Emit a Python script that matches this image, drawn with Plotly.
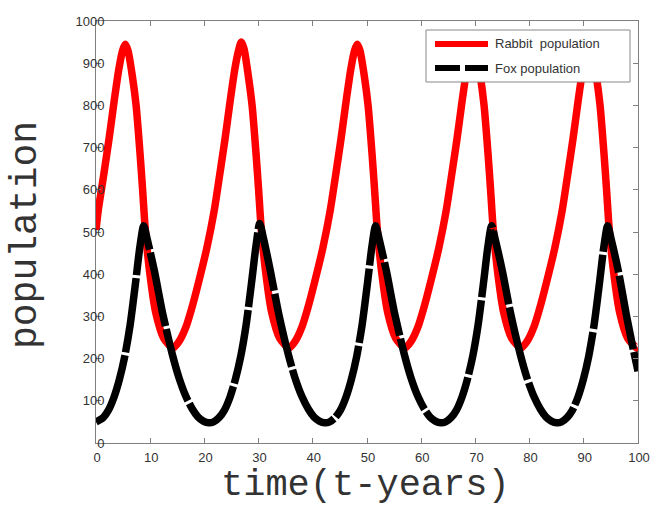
import plotly.graph_objects as go

# Values
rabbit_t = [0, 0.4, 1.3, 2.4, 3.4, 4.2, 4.9, 5.4, 5.9, 6.7, 7.4, 8.1, 8.6, 9.1, 10.0, 11.0, 12.5,
            14.2, 15.3, 16.6, 17.9, 19.3, 20.5, 21.8, 22.7, 23.8, 24.8, 25.6, 26.3, 26.8, 27.3, 28.1, 28.8, 29.5, 30.0, 30.5, 31.4, 32.4, 33.9,
            35.6, 36.7, 38.0, 39.3, 40.7, 41.9, 43.2, 44.1, 45.2, 46.2, 47.0, 47.7, 48.2, 48.7, 49.5, 50.2, 50.9, 51.4, 51.9, 52.8, 53.8, 55.3,
            57.0, 58.1, 59.4, 60.7, 62.1, 63.3, 64.6, 65.5, 66.6, 67.6, 68.4, 69.1, 69.6, 70.1, 70.9, 71.6, 72.3, 72.8, 73.3, 74.2, 75.2, 76.7,
            78.4, 79.5, 80.8, 82.1, 83.5, 84.7, 86.0, 86.9, 88.0, 89.0, 89.8, 90.5, 91.0, 91.5, 92.3, 93.0, 93.7, 94.2, 94.7, 95.6, 96.6, 98.1,
            99.8, 100]
rabbit_pop = [505, 550, 625, 720, 815, 885, 930, 945, 930, 870, 800, 690, 600, 505, 395, 310, 248,
              225, 240, 275, 330, 400, 465, 550, 625, 720, 815, 885, 930, 950, 935, 870, 800, 690, 600, 505, 395, 310, 248,
              225, 240, 275, 330, 400, 465, 550, 625, 720, 815, 885, 930, 945, 930, 870, 800, 690, 600, 505, 395, 310, 248,
              225, 240, 275, 330, 400, 465, 550, 625, 720, 815, 885, 930, 945, 930, 870, 800, 690, 600, 505, 395, 310, 248,
              225, 240, 275, 330, 400, 465, 550, 625, 720, 815, 885, 930, 945, 930, 870, 800, 690, 600, 505, 395, 310, 248,
              225, 226]

fox_t = [0, 1.3, 2.3, 3.3, 4.3, 5.3, 6.3, 7.3, 8.1, 8.8, 9.5, 10.8, 12.3, 14.1, 15.3, 16.6, 17.8, 18.8, 19.8, 20.8,
         21.7, 22.7, 23.7, 24.7, 25.7, 26.7, 27.7, 28.7, 29.5, 30.2, 30.9, 32.2, 33.7, 35.5, 36.7, 38.0, 39.2, 40.2, 41.2, 42.2,
         43.1, 44.1, 45.1, 46.1, 47.1, 48.1, 49.1, 50.1, 50.9, 51.6, 52.3, 53.6, 55.1, 56.9, 58.1, 59.4, 60.6, 61.6, 62.6, 63.6,
         64.5, 65.5, 66.5, 67.5, 68.5, 69.5, 70.5, 71.5, 72.3, 73.0, 73.7, 75.0, 76.5, 78.3, 79.5, 80.8, 82.0, 83.0, 84.0, 85.0,
         85.9, 86.9, 87.9, 88.9, 89.9, 90.9, 91.9, 92.9, 93.7, 94.4, 95.1, 96.4, 97.9, 99.0, 100]
fox_pop = [50, 60, 78, 108, 150, 205, 280, 380, 465, 515, 480, 406, 307, 209, 155, 110, 80, 62, 52, 48,
           50, 60, 78, 108, 150, 205, 280, 380, 465, 520, 485, 406, 307, 209, 155, 110, 80, 62, 52, 48,
           50, 60, 78, 108, 150, 205, 280, 380, 465, 515, 480, 406, 307, 209, 155, 110, 80, 62, 52, 48,
           50, 60, 78, 108, 150, 205, 280, 380, 465, 515, 480, 406, 307, 209, 155, 110, 80, 62, 52, 48,
           50, 60, 78, 108, 150, 205, 280, 380, 465, 515, 480, 406, 300, 230, 170]

x_ticks = [0, 10, 20, 30, 40, 50, 60, 70, 80, 90, 100]
y_ticks = [0, 100, 200, 300, 400, 500, 600, 700, 800, 900, 1000]
legend_labels = ["Rabbit  population", "Fox population"]

fig = go.Figure()
fig.add_trace(go.Scatter(x=rabbit_t, y=rabbit_pop, mode="lines", name=legend_labels[0],
                         line=dict(color="#ff0000", width=7.5, shape="spline", smoothing=0.7)))
fig.add_trace(go.Scatter(x=fox_t, y=fox_pop, mode="lines", name=legend_labels[1],
                         line=dict(color="#000000", width=7.5, shape="spline", smoothing=0.7, dash="75px,3px")))

axis_common = dict(showgrid=False, zeroline=False, showline=True, linecolor="#808080", linewidth=1,
                   mirror="ticks", ticks="inside", ticklen=5, tickcolor="#808080", automargin=False,
                   ticklabeloverflow="allow",
                   tickfont=dict(family="Liberation Sans, Arial", size=13, color="#333333"))

fig.update_xaxes(range=[0, 100], tickvals=x_ticks, ticktext=[str(v) for v in x_ticks],
                 ticklabelshift=1, ticklabelstandoff=2, **axis_common)
fig.update_yaxes(range=[0, 1000], tickvals=y_ticks, ticktext=[str(v) for v in y_ticks],
                 ticklabelstandoff=-12, **axis_common)

def px(X):
    return (X - 96) / 542.0

def py(Y):
    return (443 - Y) / 422.0

shapes = [
    dict(type="rect", xref="paper", yref="paper", x0=px(426), x1=px(630), y0=py(82), y1=py(30),
         line=dict(color="#888888", width=1), fillcolor="white", layer="above"),
    dict(type="line", xref="paper", yref="paper", x0=px(435), x1=px(488), y0=py(44), y1=py(44),
         line=dict(color="#ff0000", width=6), layer="above"),
    dict(type="line", xref="paper", yref="paper", x0=px(435), x1=px(460), y0=py(68), y1=py(68),
         line=dict(color="#000000", width=6), layer="above"),
    dict(type="line", xref="paper", yref="paper", x0=px(465), x1=px(488), y0=py(68), y1=py(68),
         line=dict(color="#000000", width=6), layer="above"),
]

annotations = [
    dict(text=legend_labels[0], xref="paper", yref="paper", x=px(493), y=py(44), xanchor="left", yanchor="middle",
         showarrow=False, font=dict(family="Liberation Sans, Arial", size=13, color="#333333")),
    dict(text=legend_labels[1], xref="paper", yref="paper", x=px(493), y=py(68), xanchor="left", yanchor="middle",
         showarrow=False, font=dict(family="Liberation Sans, Arial", size=13, color="#333333")),
    dict(text="time(t-years)", xref="paper", yref="paper", x=px(365), y=py(485), xanchor="center", yanchor="middle",
         showarrow=False, font=dict(family="Liberation Mono, Courier New", size=37, color="#333333")),
    dict(text="population", xref="paper", yref="paper", x=px(25), y=py(235), xanchor="center", yanchor="middle",
         textangle=-90, showarrow=False, font=dict(family="Liberation Mono, Courier New", size=38, color="#333333")),
]

fig.update_layout(width=651, height=506, margin=dict(l=96, r=13, t=21, b=63, autoexpand=False),
                  paper_bgcolor="white", plot_bgcolor="white", showlegend=False,
                  shapes=shapes, annotations=annotations)

fig.write_html("out.html", config={"displayModeBar": False},
               post_script="document.body.style.margin='0';document.body.style.overflow='hidden';")
